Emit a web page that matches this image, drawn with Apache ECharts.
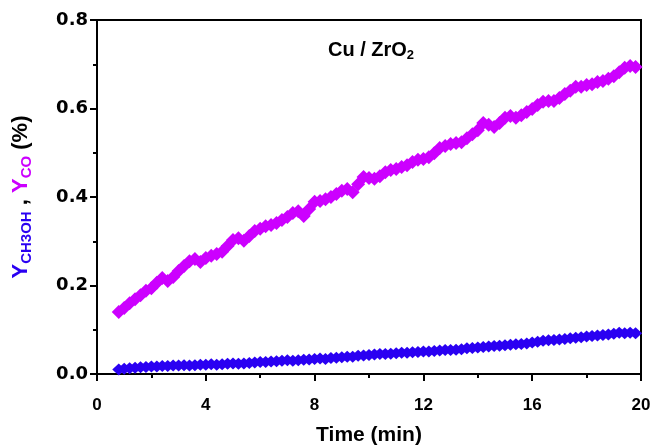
<!DOCTYPE html>
<html>
<head>
<meta charset="utf-8">
<script src="https://cdn.jsdelivr.net/npm/echarts@6/dist/echarts.min.js"></script>
<style>html,body{margin:0;padding:0;background:#fff;}#c{width:651px;height:446px;}</style>
</head>
<body>
<div id="c"></div>
<script>
var timeMin = [0.8,1.0,1.2,1.4,1.6,1.8,2.0,2.2,2.4,2.6,2.8,3.0,3.2,3.4,3.6,3.8,4.0,4.2,4.4,4.6,4.8,5.0,5.2,5.4,5.6,5.8,6.0,6.2,6.4,6.6,6.8,7.0,7.2,7.4,7.6,7.8,8.0,8.2,8.4,8.6,8.8,9.0,9.2,9.4,9.6,9.8,10.0,10.2,10.4,10.6,10.8,11.0,11.2,11.4,11.6,11.8,12.0,12.2,12.4,12.6,12.8,13.0,13.2,13.4,13.6,13.8,14.0,14.2,14.4,14.6,14.8,15.0,15.2,15.4,15.6,15.8,16.0,16.2,16.4,16.6,16.8,17.0,17.2,17.4,17.6,17.8,18.0,18.2,18.4,18.6,18.8,19.0,19.2,19.4,19.6,19.8];
var yCO = [0.140,0.149,0.160,0.169,0.178,0.188,0.194,0.206,0.217,0.210,0.219,0.233,0.244,0.255,0.260,0.253,0.262,0.267,0.271,0.276,0.289,0.303,0.307,0.301,0.312,0.323,0.328,0.334,0.337,0.341,0.348,0.355,0.364,0.368,0.357,0.373,0.389,0.391,0.395,0.400,0.407,0.414,0.418,0.411,0.429,0.445,0.443,0.441,0.447,0.456,0.461,0.463,0.468,0.472,0.479,0.484,0.486,0.490,0.499,0.511,0.515,0.520,0.522,0.524,0.533,0.542,0.551,0.567,0.563,0.558,0.567,0.579,0.583,0.579,0.585,0.592,0.599,0.608,0.615,0.617,0.617,0.624,0.633,0.640,0.649,0.649,0.653,0.655,0.660,0.662,0.667,0.673,0.682,0.692,0.696,0.694];
var yCH3OH = [0.010,0.012,0.013,0.014,0.015,0.016,0.017,0.017,0.018,0.018,0.019,0.019,0.020,0.019,0.020,0.021,0.021,0.022,0.021,0.022,0.023,0.024,0.023,0.024,0.025,0.026,0.027,0.027,0.028,0.029,0.030,0.031,0.030,0.031,0.032,0.033,0.034,0.035,0.034,0.036,0.037,0.038,0.039,0.039,0.041,0.042,0.043,0.044,0.045,0.045,0.046,0.047,0.048,0.048,0.049,0.050,0.051,0.051,0.052,0.053,0.054,0.054,0.055,0.056,0.058,0.059,0.060,0.061,0.062,0.063,0.064,0.065,0.066,0.067,0.068,0.069,0.071,0.073,0.075,0.076,0.077,0.078,0.079,0.081,0.082,0.083,0.085,0.086,0.087,0.088,0.089,0.091,0.093,0.092,0.093,0.092];
var xTicks = [0,4,8,12,16,20];
var yTicks = [0.0,0.2,0.4,0.6,0.8];

function pairs(xs, ys){ var out=[]; for(var i=0;i<xs.length;i++){ out.push([xs[i], ys[i]]); } return out; }

var chart = echarts.init(document.getElementById('c'), null, {renderer:'canvas'});
var blue = '#2a00f2', mag = '#cc00ff';
var option = {
  animation:false,
  backgroundColor:'#fff',
  title:{
    text:'{a|Cu / ZrO}{s|2}',
    left:366, top:33, textAlign:'center',
    textStyle:{rich:{
      a:{fontFamily:'Liberation Sans, Arial', fontWeight:'bold', fontSize:20, color:'#000', lineHeight:24},
      s:{fontFamily:'Liberation Sans, Arial', fontWeight:'bold', fontSize:13, color:'#000', lineHeight:6, verticalAlign:'bottom'}
    }}
  },
  grid:{left:97, right:10, top:20, bottom:72, show:true, borderColor:'#000', borderWidth:2, containLabel:false, outerBoundsMode:'none'},
  xAxis:{
    type:'value', min:0, max:20, interval:4,
    axisLine:{show:true, onZero:false, lineStyle:{color:'#000', width:2}},
    axisTick:{show:true, inside:false, length:7, lineStyle:{color:'#000', width:2}},
    minorTick:{show:true, splitNumber:2, length:4, lineStyle:{color:'#000', width:2}},
    splitLine:{show:false},
    axisLabel:{margin:23, color:'#000', fontFamily:'Liberation Sans, Arial', fontWeight:'bold', fontSize:17,
      formatter:function(v){ return xTicks.indexOf(v)>=0 ? String(v) : ''; }},
    name:'Time (min)', nameLocation:'middle', nameGap:51,
    nameTextStyle:{color:'#000', fontFamily:'Liberation Sans, Arial', fontWeight:'bold', fontSize:21}
  },
  yAxis:{
    type:'value', min:0, max:0.8, interval:0.2,
    axisLine:{show:true, onZero:false, lineStyle:{color:'#000', width:2}},
    axisTick:{show:true, inside:false, length:7, lineStyle:{color:'#000', width:2}},
    minorTick:{show:true, splitNumber:2, length:4, lineStyle:{color:'#000', width:2}},
    splitLine:{show:false},
    axisLabel:{margin:9, color:'#000', fontFamily:'DejaVu Sans', fontWeight:'bold', fontSize:18,
      formatter:function(v){ return v.toFixed(1); }},
    name:'{yb|Y}{sb|CH3OH}{k| , }{ym|Y}{sm|CO}{k| (%)}',
    nameLocation:'middle', nameRotate:90, nameGap:63,
    nameTextStyle:{rich:{
      yb:{color:blue, fontFamily:'Liberation Sans, Arial', fontWeight:'bold', fontSize:22, lineHeight:26},
      sb:{color:blue, fontFamily:'Liberation Sans, Arial', fontWeight:'bold', fontSize:15, lineHeight:10, verticalAlign:'bottom'},
      ym:{color:mag, fontFamily:'Liberation Sans, Arial', fontWeight:'bold', fontSize:22, lineHeight:26},
      sm:{color:mag, fontFamily:'Liberation Sans, Arial', fontWeight:'bold', fontSize:15, lineHeight:10, verticalAlign:'bottom'},
      k:{color:'#000', fontFamily:'Liberation Sans, Arial', fontWeight:'bold', fontSize:22, lineHeight:26}
    }}
  },
  series:[
    {type:'scatter', name:'CO', data:pairs(timeMin, yCO), symbol:'diamond', symbolSize:[14,14],
     itemStyle:{color:mag, opacity:1}},
    {type:'scatter', name:'CH3OH', data:pairs(timeMin, yCH3OH), symbol:'diamond', symbolSize:[13,12],
     itemStyle:{color:blue, opacity:1}}
  ]
};
chart.setOption(option);
</script>
</body>
</html>
